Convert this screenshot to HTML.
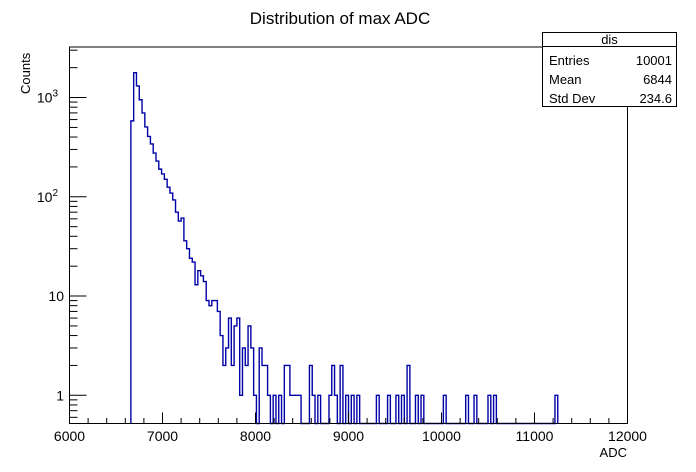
<!DOCTYPE html>
<html><head><meta charset="utf-8">
<style>
html,body{margin:0;padding:0;background:#fff;}
svg{display:block;font-family:"Liberation Sans",sans-serif;}
</style></head>
<body>
<svg id="chart" width="696" height="472" viewBox="0 0 696 472">
<text x="340" y="24" font-size="17" text-anchor="middle">Distribution of max ADC</text>
<text transform="translate(30,94) rotate(-90)" font-size="13" text-anchor="start">Counts</text>
<text x="627" y="457" font-size="13" text-anchor="end">ADC</text>
<g id="hist"></g>
<g id="axes"></g>
<g>
<rect x="542.5" y="32.5" width="134" height="74" fill="#fff" stroke="#000" stroke-width="1"/>
<line x1="542.5" y1="46.5" x2="676.5" y2="46.5" stroke="#000"/>
<text x="609.5" y="44" font-size="13" text-anchor="middle">dis</text>
<text x="549" y="65" font-size="13">Entries</text>
<text x="672" y="65" font-size="13" text-anchor="end">10001</text>
<text x="549" y="84" font-size="13">Mean</text>
<text x="672" y="84" font-size="13" text-anchor="end">6844</text>
<text x="549" y="103" font-size="13">Std Dev</text>
<text x="672" y="103" font-size="13" text-anchor="end">234.6</text>
</g>
</svg>
<script>
const binLow = 6000;
const binWidth = 30;
const nBins = 200;
const filledBins = [22,23,24,25,26,27,28,29,30,31,32,33,34,35,36,37,38,39,40,41,42,43,44,45,46,47,48,49,50,51,52,53,54,55,56,57,58,59,60,61,62,63,64,65,66,68,69,70,71,73,75,77,78,79,80,81,82,86,87,89,93,94,95,97,99,101,103,110,114,117,119,121,124,126,134,142,145,150,152,174];
const filledCounts = [582,1780,1310,950,700,506,406,341,276,229,190,170,150,125,109,93,70,57,61,36,30,24,22,13,18,16,14,9,8,9,9,7,4,2,3,6,2,5,6,1,3,2,5,3,1,3,2,2,1,1,1,2,2,1,1,1,1,2,1,1,1,2,1,2,1,1,1,1,1,1,1,2,1,1,1,1,1,1,1,1];
const xTicks = [6000,7000,8000,9000,10000,11000,12000];
const yTicks = [1,10,100,1000];
const yTickLabels = ["1","10","10^2","10^3"];

const NS="http://www.w3.org/2000/svg";
const L=69.5,R=627.5,T=47,B=423.5;
const xMin=6000,xMax=12000,yMin=0.52,yMax=3230;
function xs(v){return L+(v-xMin)/(xMax-xMin)*(R-L);}
function ys(v){return B-(Math.log10(v)-Math.log10(yMin))/(Math.log10(yMax)-Math.log10(yMin))*(B-T);}
function mk(tag,attrs,parent){const e=document.createElementNS(NS,tag);for(const k in attrs)e.setAttribute(k,attrs[k]);parent.appendChild(e);return e;}

const counts=new Array(nBins).fill(0);
filledBins.forEach((b,i)=>{counts[b]=filledCounts[i];});
let first=filledBins[0],last=filledBins[filledBins.length-1];
let d="M"+xs(binLow+first*binWidth).toFixed(2)+","+B;
for(let i=first;i<=last;i++){
  const y=counts[i]>0?ys(counts[i]):B;
  d+=" V"+y.toFixed(2)+" H"+xs(binLow+(i+1)*binWidth).toFixed(2);
}
d+=" V"+B;
const hist=document.getElementById('hist');
const p=mk('path',{d:d,fill:'none',stroke:'#0000a8','stroke-width':'1.4'},hist);



const ax=document.getElementById('axes');
const fr=mk('rect',{x:L,y:T,width:R-L,height:B-T,fill:'none',stroke:'#000','stroke-width':'1'},ax);


for(let v=6000;v<=12000;v+=200){
  const major=(v%1000===0);
  const t=mk('line',{x1:xs(v),x2:xs(v),y1:B,y2:B-(major?11:5.5),stroke:'#000','stroke-width':'1'},ax);
  
  
}
xTicks.forEach(v=>{
  const t=mk('text',{x:xs(v),y:441,'font-size':'14','text-anchor':'middle'},ax);
  t.textContent=String(v);
  
  
});
for(let dec=0.1;dec<=1000;dec*=10){
  for(let m=1;m<=9;m++){
    const v=Math.round(dec*m*1000)/1000;
    if(v<yMin||v>yMax)continue;
    const major=(m===1);
    const t=mk('line',{x1:L,x2:L+(major?17:8),y1:ys(v),y2:ys(v),stroke:'#000','stroke-width':'1'},ax);
    
    
  }
}
yTicks.forEach((v,i)=>{
  const lab=yTickLabels[i];
  const t=mk('text',{x:64,y:ys(v)+5,'font-size':'14','text-anchor':'end'},ax);
  if(lab.indexOf('^')>=0){
    const parts=lab.split('^');
    t.setAttribute('x',58);
    const a=mk('tspan',{},t);a.textContent=parts[0];
    const b=mk('tspan',{dy:'-6','font-size':'10'},t);b.textContent=parts[1];
  } else t.textContent=lab;
  
  
});
</script>
</body></html>
